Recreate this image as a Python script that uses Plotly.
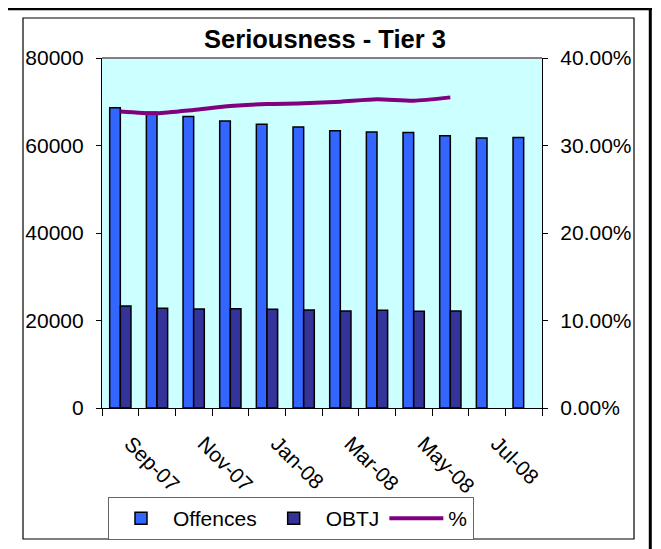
import plotly.graph_objects as go

months = ["Sep-07", "Oct-07", "Nov-07", "Dec-07", "Jan-08", "Feb-08",
          "Mar-08", "Apr-08", "May-08", "Jun-08", "Jul-08", "Aug-08"]
offences = [68650, 67600, 66650, 65600, 64850, 64250, 63400, 63100, 62950, 62250, 61700, 61850]
obtj = [23300, 22780, 22630, 22700, 22550, 22400, 22170, 22320, 22100, 22170, None, None]
pct = [0.339, 0.3368, 0.3406, 0.3451, 0.3474, 0.3482, 0.3501, 0.3528, 0.3512, 0.355, None, None]
tick_labels = [m if i % 2 == 0 else "" for i, m in enumerate(months)]

FONT = "Arial, 'Liberation Sans', sans-serif"

fig = go.Figure()
fig.add_trace(go.Bar(x=months, y=offences, name="Offences",
                     marker=dict(color="#3366FF", line=dict(color="black", width=1.5))))
fig.add_trace(go.Bar(x=months, y=obtj, name="OBTJ",
                     marker=dict(color="#333399", line=dict(color="black", width=1.5))))
fig.add_trace(go.Scatter(x=months, y=pct, name="%", yaxis="y2", mode="lines",
                         line=dict(color="#800080", width=4, shape="spline", smoothing=0.6)))

W, H = 661, 549
OFF = 8  # page body margin offset
L, R, T, B = 102 - OFF, 542 - OFF, 58 - OFF, 408 - OFF


def px(x):
    return (x - OFF - L) / (R - L)


def py(y):
    return (B - (y - OFF)) / (B - T)


shapes = [
    # plot area top border (gray)
    dict(type="line", xref="paper", yref="paper", x0=0, x1=1, y0=1, y1=1,
         line=dict(color="#808080", width=2)),
    # chart frame
    dict(type="rect", xref="paper", yref="paper", x0=px(23), x1=px(634), y0=py(539), y1=py(18),
         line=dict(color="black", width=1.2)),
    # outer heavy border lines
    dict(type="line", xref="paper", yref="paper", x0=px(0), x1=px(652), y0=py(9), y1=py(9),
         line=dict(color="black", width=2.5)),
    dict(type="line", xref="paper", yref="paper", x0=px(650.3), x1=px(650.3), y0=py(8), y1=py(560),
         line=dict(color="black", width=3)),
]

fig.update_layout(
    width=W, height=H,
    margin=dict(l=L, r=W - R, t=T, b=H - B),
    paper_bgcolor="white",
    plot_bgcolor="#CCFFFF",
    font=dict(family=FONT, size=21, color="black"),
    title=dict(text="<b>Seriousness - Tier 3</b>", x=px(325), xref="paper", xanchor="center",
               y=1 - (39 - OFF) / H, yref="container", yanchor="middle",
               font=dict(family=FONT, size=25.5, color="black")),
    barmode="group", bargap=0.42, bargroupgap=0,
    showlegend=True,
    legend=dict(orientation="h", x=px(108), y=py(497), xanchor="left", yanchor="top",
                bordercolor="#666666", borderwidth=1, bgcolor="white",
                font=dict(family=FONT, size=21, color="black"),
                itemwidth=54, traceorder="normal"),
    xaxis=dict(type="category", tickmode="array", tickvals=months, ticktext=tick_labels,
               tickson="boundaries", ticks="outside", ticklen=7, tickcolor="black",
               showline=True, linecolor="black", linewidth=1.2, showgrid=False,
               tickangle=45, ticklabelstandoff=14, ticklabelshift=10, zeroline=False),
    yaxis=dict(range=[0, 80000], dtick=20000, tickformat="d", ticks="outside", ticklen=5,
               tickcolor="black", showline=True, linecolor="black", linewidth=1.2,
               showgrid=False, zeroline=False, ticklabelstandoff=8),
    yaxis2=dict(range=[0, 0.4], dtick=0.1, tickformat=".2%", overlaying="y", side="right",
                ticks="outside", ticklen=5, tickcolor="black", showline=True,
                linecolor="black", linewidth=1.2, showgrid=False, zeroline=False,
                ticklabelstandoff=8),
    shapes=shapes,
)

fig.write_html("out.html")
